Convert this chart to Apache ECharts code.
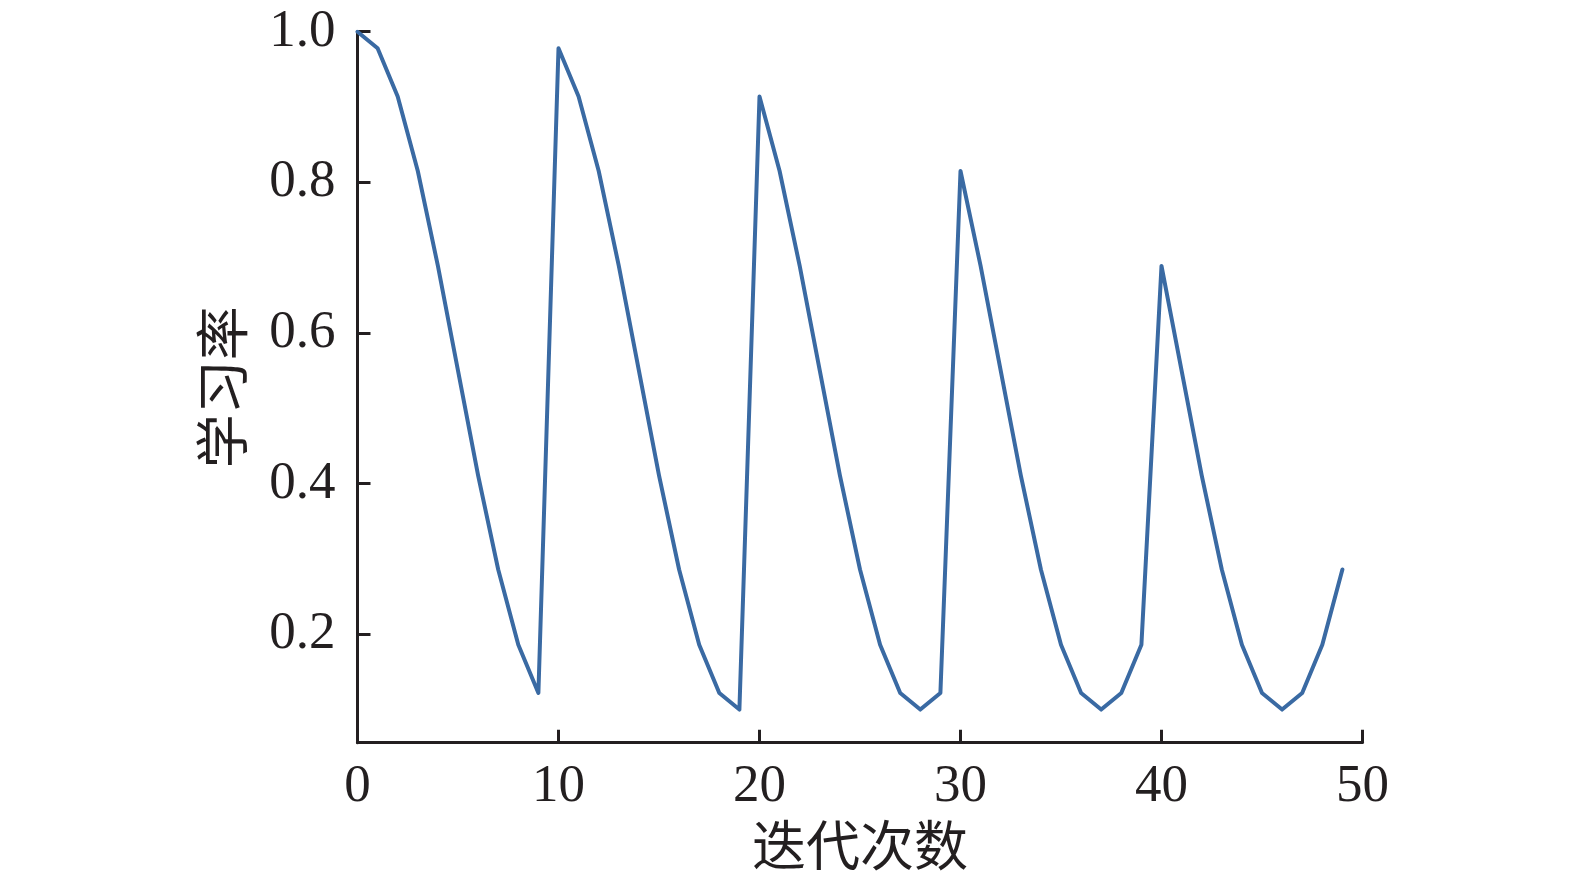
<!DOCTYPE html>
<html>
<head>
<meta charset="utf-8">
<script src="https://cdn.jsdelivr.net/npm/echarts@6/dist/echarts.min.js"></script>
<style>
html,body{margin:0;padding:0;background:#fff;}
#chart{width:1575px;height:880px;}
</style>
</head>
<body>
<div id="chart"></div>
<script>
// Iteration index (x) and learning-rate values (y)
const iterations = [0,1,2,3,4,5,6,7,8,9,10,11,12,13,14,15,16,17,18,19,20,21,22,23,24,25,26,27,28,29,30,31,32,33,34,35,36,37,38,39,40,41,42,43,44,45,46,47,48,49];
const learningRate = [
  1.000, 0.978, 0.914, 0.815, 0.689, 0.550, 0.411, 0.286, 0.186, 0.122,
  0.978, 0.914, 0.815, 0.689, 0.550, 0.411, 0.286, 0.186, 0.122, 0.100,
  0.914, 0.815, 0.689, 0.550, 0.411, 0.286, 0.186, 0.122, 0.100, 0.122,
  0.815, 0.689, 0.550, 0.411, 0.286, 0.186, 0.122, 0.100, 0.122, 0.186,
  0.689, 0.550, 0.411, 0.286, 0.186, 0.122, 0.100, 0.122, 0.186, 0.286
];
const yTickValues = [0.2, 0.4, 0.6, 0.8, 1.0];
const xAxisTitle = '迭代次数';
const yAxisTitle = '学习率';

const axisColor = '#231f20';
const serif = '"Liberation Serif", "DejaVu Serif", serif';
const cjk = '"Noto Sans CJK SC", serif';

const chart = echarts.init(document.getElementById('chart'), null, {renderer: 'canvas'});
chart.setOption({
  animation: false,
  backgroundColor: '#ffffff',
  grid: {left: 357.5, right: 212.5, top: 31.7, bottom: 137.3, containLabel: false},
  xAxis: {
    type: 'value',
    min: 0, max: 50, interval: 10,
    name: xAxisTitle,
    nameLocation: 'middle',
    nameGap: 70,
    nameTextStyle: {fontFamily: cjk, fontSize: 54, color: axisColor},
    axisLine: {show: true, lineStyle: {color: axisColor, width: 3}},
    axisTick: {show: true, inside: true, length: 13, lineStyle: {color: axisColor, width: 3}},
    axisLabel: {fontFamily: serif, fontSize: 53, color: axisColor, margin: 18},
    splitLine: {show: false}
  },
  yAxis: {
    type: 'value',
    min: 0.056, max: 1.0,
    name: yAxisTitle,
    nameLocation: 'middle',
    nameGap: 108,
    nameTextStyle: {fontFamily: cjk, fontSize: 54, color: axisColor},
    axisLine: {show: true, lineStyle: {color: axisColor, width: 3}},
    axisTick: {show: true, inside: true, length: 13, customValues: yTickValues, lineStyle: {color: axisColor, width: 3}},
    axisLabel: {fontFamily: serif, fontSize: 53, color: axisColor, margin: 22,
      customValues: yTickValues, formatter: v => v.toFixed(1)},
    splitLine: {show: false}
  },
  series: [{
    type: 'line',
    data: iterations.map((x, i) => [x, learningRate[i]]),
    showSymbol: false,
    lineStyle: {color: '#3a6aa3', width: 4, join: 'round', cap: 'round'},
    emphasis: {disabled: true},
    itemStyle: {color: '#3a6aa3'}
  }]
});
</script>
</body>
</html>
